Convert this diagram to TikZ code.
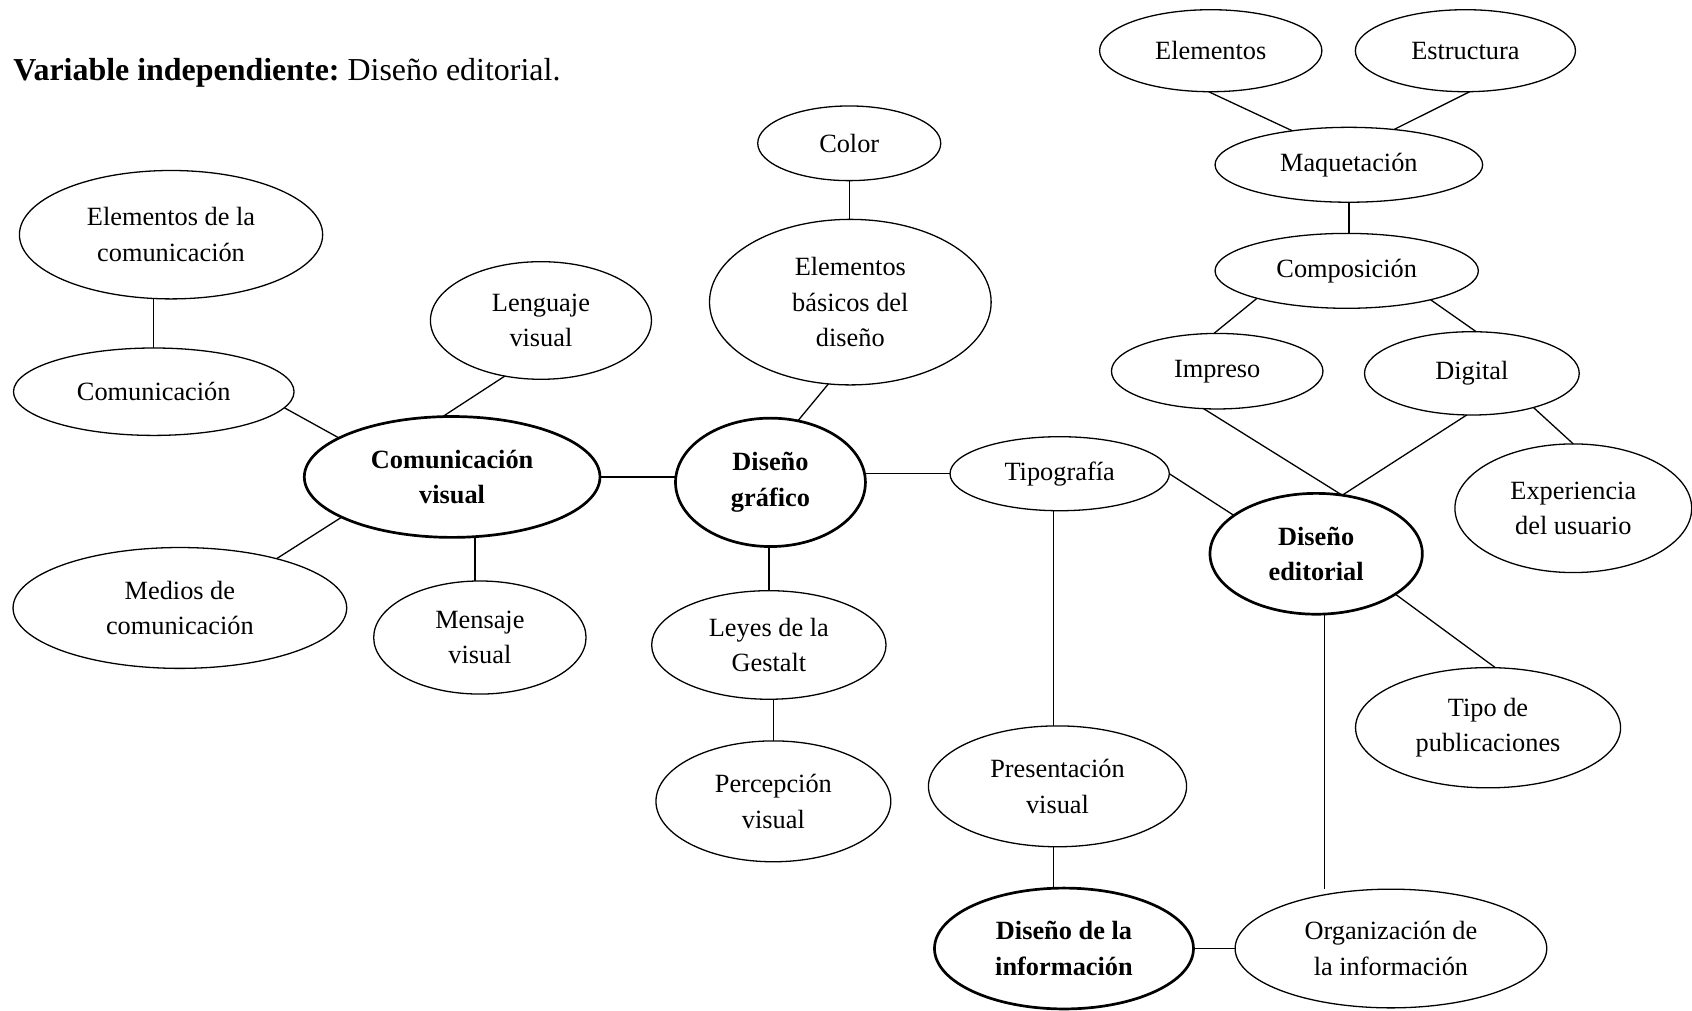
\documentclass[tikz,border=0pt]{standalone}
\usepackage{fontspec}
\setmainfont{Liberation Serif}
\usetikzlibrary{shapes.geometric}
\newcommand\nodefont{\fontsize{12.2}{16.5}\selectfont}
\frenchspacing

\begin{document}
\begin{tikzpicture}[x=0.5pt,y=-0.5pt,
  ell/.style={ellipse, draw, line width=0.6pt, inner sep=0pt, outer sep=0pt,
              align=center, font=\nodefont},
  key/.style={ell, line width=1.25pt, font=\nodefont\bfseries},
  sz/.style 2 args={minimum width=#1pt, minimum height=#2pt},
  link/.style={line width=0.6pt}]
\useasboundingbox (0,0) rectangle (1568,936);

% heading
\node[anchor=base west, inner sep=0pt, font=\fontsize{14.8}{18}\selectfont]
  (title) at (12,74.8) {\textbf{Variable independiente:} Diseño editorial.};

% left cluster: visual communication
\node[ell, sz={140.5}{59.5}] (edlc) at (158.5,217.5) {Elementos de la\\comunicación};
\node[ell, sz={130}{40.5}]   (com)  at (142.5,363)   {Comunicación};
\node[ell, sz={102.4}{54.5}] (lv)   at (501.3,297)   {Lenguaje\\visual};
\node[key, sz={137}{56}]     (cv)   at (419,442)     {Comunicación\\visual};
\node[ell, sz={154.6}{56}]   (med)  at (166.7,563.4) {Medios de\\comunicación};
\node[ell, sz={98.4}{52.4}]  (msg)  at (444.7,590.8) {Mensaje\\visual};

% centre cluster: graphic design
\node[ell, sz={84.8}{34.6}]  (color) at (787,132.8)  {Color};
\node[ell, sz={130.5}{76.7}] (ebd)   at (788,280)    {Elementos\\básicos del\\diseño};
\node[key, sz={88}{59.5}]    (dg)    at (714,447)    {Diseño\\gráfico};
\node[ell, sz={108.6}{50.3}] (leyes) at (712.5,597.7) {Leyes de la\\Gestalt};
\node[ell, sz={108.8}{56}]   (perc)  at (716.7,742.6) {Percepción\\visual};

% typography and information design
\node[ell, sz={101.6}{34.3}] (tip)  at (982,439)     {Tipografía};
\node[ell, sz={119.6}{56}]   (pres) at (980,728.7)   {Presentación\\visual};
\node[key, sz={120}{56}]     (di)   at (986,879)     {Diseño de la\\información};
\node[ell, sz={144.4}{55}]   (org)  at (1289,879)    {Organización de\\la información};

% right cluster: editorial design
\node[key, sz={98.4}{56}]    (de)   at (1219.7,513.2) {Diseño\\editorial};
\node[ell, sz={122.8}{55.7}] (tipo) at (1379,674.4)  {Tipo de\\publicaciones};
\node[ell, sz={109.7}{59.6}] (exp)  at (1458,471)    {Experiencia\\del usuario};
\node[ell, sz={98}{35}]      (imp)  at (1128,344)    {Impreso};
\node[ell, sz={99.5}{38.6}]  (dig)  at (1364,346)    {Digital};
\node[ell, sz={122}{34.7}]   (comp) at (1248,251)    {Composición};
\node[ell, sz={124}{34.7}]   (maq)  at (1250,152.7)  {Maquetación};
\node[ell, sz={103}{38}]     (elem) at (1122,47)     {Elementos};
\node[ell, sz={102}{38}]     (estr) at (1358,47)     {Estructura};

% connectors
\draw[link] (edlc.south -| com.north) -- (com.north);
\draw[link] (com.-7.8) -- (cv.161);
\draw[link] (lv.-123) -- (cv.99.5);
\draw[link] (cv.-160.5) -- (med.27.5);
\draw[link] (cv.-69) -- (cv.-69 |- msg.north);
\draw[link] (cv.east) -- (cv.east -| dg.west);

\draw[link] (color.south) -- (color.south |- ebd.north);
\draw[link] (dg.66) -- (ebd.-105);
\draw[link] (leyes.north |- dg.south) -- (leyes.north);
\draw[link] (perc.north |- leyes.south) -- (perc.north);
\draw[link] (tip.west -| dg.east) -- (tip.west);

\draw[link] (tip.-99) -- (tip.-99 |- pres.north);
\draw[link] (pres.-94.5) -- (pres.-94.5 |- di.north);
\draw[link] (di.east) -- (org.west);
\draw[link] (tip.east) -- (de.155);

\draw[link] (de.-82.6) -- (de.-82.6 |- org.north);
\draw[link] (de.-27) -- (tipo.83);
\draw[link] (imp.-110) -- (de.66);
\draw[link] (dig.-97.5) -- (de.66);
\draw[link] (dig.-29) -- (exp.north);
\draw[link] (comp.-163) -- (imp.95);
\draw[link] (comp.-19) -- (dig.84);
\draw[link] (maq.south) -- (maq.south |- comp.north);
\draw[link] (elem.-93) -- (maq.149);
\draw[link] (estr.-84) -- (maq.38);
\end{tikzpicture}
\end{document}
